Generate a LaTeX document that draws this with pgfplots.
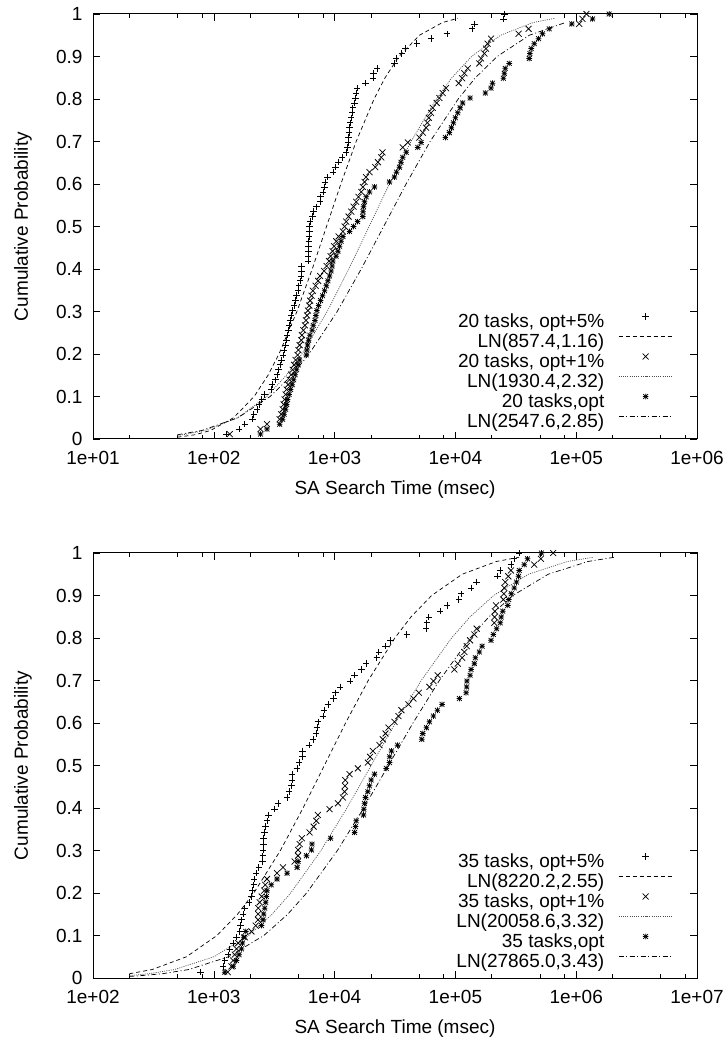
\documentclass[border=0pt]{standalone}
\usepackage{fontspec}
\setmainfont{Liberation Sans}
\usepackage{pgfplots}
\usepackage{pgfplotstable}
\pgfplotsset{compat=1.18}

\pgfdeclareplotmark{gpstar}{%
  \pgfpathmoveto{\pgfqpoint{-\pgfplotmarksize}{0pt}}\pgfpathlineto{\pgfqpoint{\pgfplotmarksize}{0pt}}%
  \pgfpathmoveto{\pgfqpoint{0pt}{-\pgfplotmarksize}}\pgfpathlineto{\pgfqpoint{0pt}{\pgfplotmarksize}}%
  \pgfpathmoveto{\pgfqpoint{-.85\pgfplotmarksize}{-.85\pgfplotmarksize}}\pgfpathlineto{\pgfqpoint{.85\pgfplotmarksize}{.85\pgfplotmarksize}}%
  \pgfpathmoveto{\pgfqpoint{-.85\pgfplotmarksize}{.85\pgfplotmarksize}}\pgfpathlineto{\pgfqpoint{.85\pgfplotmarksize}{-.85\pgfplotmarksize}}%
  \pgfusepathqstroke}

% top: 20 tasks (cumulative probability, search time in msec)
\pgfplotstableread{
p plus cross star
0.0116 127.4 135.6 243.4
0.0233 161.8 243.4 275.7
0.0349 180.3 275.7 350.9
0.0465 208.8 350.9 371.5
0.0581 214.0 361.5 382.2
0.0698 228.6 371.5 393.3
0.0814 237.0 378.6 400.9
0.0930 249.2 385.9 408.6
0.1047 263.8 393.3 420.5
0.1163 299.2 400.9 432.6
0.1279 302.6 412.4 445.0
0.1395 323.4 424.4 458.0
0.1512 333.4 436.6 471.2
0.1628 344.3 449.4 484.9
0.1744 354.3 462.3 498.9
0.1860 362.5 475.8 513.4
0.1977 373.6 494.2 582.6
0.2093 382.2 501.8 590.5
0.2209 391.7 513.4 597.9
0.2326 398.4 530.4 609.4
0.2442 404.7 536.6 624.7
0.2558 414.0 551.4 651.4
0.2674 420.5 567.8 665.2
0.2791 427.0 579.1 687.2
0.2907 435.5 591.6 700.3
0.3023 449.4 601.9 713.8
0.3140 462.3 617.3 737.1
0.3256 475.8 627.0 765.7
0.3372 483.0 645.2 795.4
0.3488 497.3 661.4 826.2
0.3605 506.0 696.2 853.1
0.3721 518.3 730.2 880.2
0.3837 528.3 758.5 908.7
0.3953 530.4 818.4 934.9
0.4070 533.3 858.3 952.9
0.4186 602.0 900.1 967.6
0.4302 605.5 926.2 1029
0.4419 608.0 962.1 1065
0.4535 609.4 990.8 1100
0.4651 611.7 1033 1132
0.4767 614.0 1079 1171
0.4884 617.6 1171 1330
0.5000 621.1 1209 1435
0.5116 627.0 1249 1549
0.5233 657.6 1305 1713
0.5349 670.2 1374 1720
0.5465 709.6 1435 1736
0.5581 755.7 1511 1769
0.5698 765.7 1578 1827
0.5814 800.5 1664 1946
0.5930 826.2 1713 2140
0.6047 831.0 1769 2846
0.6163 874.8 1820 3130
0.6279 967.6 1946 3252
0.6395 1019 2170 3443
0.6512 1079 2286 3543
0.6628 1153 2434 3665
0.6744 1249 2492 3915
0.6860 1274 3665 4878
0.6977 1290 4032 5202
0.7093 1300 5037 8262
0.7209 1313 5366 8916
0.7326 1330 5720 9262
0.7442 1348 5866 9621
0.7558 1374 6020 10000
0.7674 1400 6280 10450
0.7791 1416 6490 10940
0.7907 1463 7000 11490
0.8023 1491 7371 13230
0.8140 1511 7850 17690
0.8256 1540 8370 19720
0.8372 1803 10650 20290
0.8488 2076 11360 24920
0.8605 2100 11870 25400
0.8721 2254 12640 25880
0.8837 3130 15780 27930
0.8953 3235 16310 40860
0.9070 3597 17360 41390
0.9186 3859 17920 42440
0.9302 4788 18480 44940
0.9419 6280 19720 48780
0.9535 8530 33350 52630
0.9651 13740 40320 59790
0.9767 14350 105900 92040
0.9884 24920 112700 136600
1.0000 25400 121600 187300
}\toptab

% bottom: 35 tasks
\pgfplotstableread{
p plus cross star
0.0137 776 1305 1233
0.0274 1193 1400 1446
0.0411 1233 1446 1540
0.0548 1312 1491 1618
0.0685 1356 1540 1697
0.0822 1449 1591 1725
0.0959 1540 1803 1769
0.1096 1640 2048 1838
0.1233 1664 2223 2480
0.1370 1697 2323 2554
0.1507 1747 2327 2588
0.1644 1803 2332 2638
0.1781 1957 2399 2689
0.1918 2048 2492 2725
0.2055 2088 2613 2756
0.2192 2140 2664 2991
0.2329 2152 2756 3335
0.2466 2245 3335 4040
0.2603 2354 3736 4895
0.2740 2526 4668 4990
0.2877 2540 4977 5850
0.3014 2554 4987 6426
0.3151 2569 5134 6502
0.3288 2588 5361 9262
0.3425 2638 6211 14630
0.3562 2689 6702 14910
0.3699 2756 7055 15110
0.3836 2846 7274 17360
0.3973 3191 9087 17460
0.4110 3398 10650 17690
0.4247 4040 11710 18030
0.4384 4188 12090 18840
0.4521 4384 12200 19460
0.4658 4435 12250 20080
0.4795 4443 13300 21400
0.4932 4876 15580 26760
0.5068 5066 18840 28460
0.5205 5405 19640 28570
0.5342 5416 20750 29570
0.5479 6129 23540 33140
0.5616 6614 25070 52700
0.5753 7055 26380 53660
0.5890 7190 27930 57550
0.6027 7274 31300 60940
0.6164 8000 33780 65760
0.6301 8153 35760 70960
0.6438 8798 40860 77600
0.6575 9806 44940 107900
0.6712 10190 49770 122500
0.6849 11140 60940 124000
0.6986 13480 65760 124500
0.7123 14630 71380 132300
0.7260 16640 98060 134800
0.7397 18270 104500 143500
0.7534 22360 113600 146300
0.7671 23220 118700 157800
0.7808 26380 124000 166400
0.7945 29010 132300 197200
0.8082 39560 143500 206000
0.8219 57220 150000 219400
0.8356 57900 210000 235000
0.8493 60200 210800 239400
0.8630 74700 212000 246600
0.8767 85300 216900 271400
0.8904 106500 249200 276500
0.9041 111400 251600 290100
0.9178 134800 254000 307100
0.9315 150000 258800 320800
0.9452 223600 274000 333100
0.9589 235000 288200 337800
0.9726 288200 449400 371500
0.9863 307100 510000 395600
1.0000 337800 645200 515600
}\bottab

\pgfplotsset{
  legend image code/.code={\draw[mark repeat=2,mark phase=2,#1] plot coordinates {(0pt,6.5pt) (27pt,6.5pt) (54pt,6.5pt)};},
}

\begin{document}
\begin{tikzpicture}
\useasboundingbox (0,0) rectangle (728pt,1042pt);

\begin{axis}[at={(93pt,603pt)}, anchor=south west,
  scale only axis, width=604pt, height=425pt,
  xmode=log, ymin=0, ymax=1, clip=false,
  xmin=10, xmax=1000000,
  xtick={10,100,1000,10000,100000,1000000},
  xticklabels={1e+01,1e+02,1e+03,1e+04,1e+05,1e+06},
  minor xtick={20,50,80,200,500,800,2000,5000,8000,20000,50000,80000,200000,500000,800000},
  ytick={0,0.1,0.2,0.3,0.4,0.5,0.6,0.7,0.8,0.9,1},
  yticklabels={0,0.1,0.2,0.3,0.4,0.5,0.6,0.7,0.8,0.9,1},
  major tick length=7pt, minor tick length=4pt,
  tick style={black, line width=0.6pt},
  axis line style={line width=1pt},
  tick label style={font=\fontsize{19}{20}\selectfont},
  xticklabel style={yshift=-9pt},
  yticklabel style={xshift=-7pt},
  label style={font=\fontsize{19}{20}\selectfont},
  xlabel={SA Search Time (msec)},
  ylabel={Cumulative Probability},
  xlabel style={at={(axis description cs:0.5,-0.12)}, anchor=center},
  ylabel style={at={(axis description cs:-0.1159,0.5)}, anchor=center},
  legend plot pos=right,
  legend cell align=right,
  legend style={draw=none, fill=none, inner sep=0pt, outer sep=0pt,
    row sep=0pt, column sep=14pt,
    font=\fontsize{19}{20}\selectfont,
    nodes={inner sep=0pt, text height=14.5pt, text depth=5.5pt},
    at={(axis description cs:0.9603,0.0141)}, anchor=south east}]
\addplot[only marks, black, mark size=3.2pt, mark options={line width=0.75pt}, mark=+] table[x=plus, y=p] {\toptab};
\addlegendentry{20 tasks, opt+5\%}
\addplot[black, line width=0.7pt, dash pattern=on 4pt off 3pt] coordinates {(50,0.0042) (70.0,0.01) (93.9,0.02) (145.8,0.05) (215.7,0.1) (281.0,0.15) (346.5,0.2) (487.4,0.3) (652.7,0.4) (857.4,0.5) (1126,0.6) (1508,0.7) (2122,0.8) (2617,0.85) (3409,0.9) (5042,0.95) (7832,0.98) (10500,0.99)};
\addlegendentry{LN(857.4,1.16)}
\addplot[only marks, black, mark size=4.2pt, mark options={line width=0.75pt}, mark=x] table[x=cross, y=p] {\toptab};
\addlegendentry{20 tasks, opt+1\%}
\addplot[black!70, line width=0.7pt, dash pattern=on 1pt off 1.2pt] coordinates {(50,0.0082) (55.8,0.01) (84.5,0.02) (157.6,0.05) (274.1,0.1) (398.4,0.15) (535.8,0.2) (868.4,0.3) (1312,0.4) (1930,0.5) (2840,0.6) (4291,0.7) (6956,0.8) (9352,0.85) (13600,0.9) (23650,0.95) (44100,0.98) (66720,0.99)};
\addlegendentry{LN(1930.4,2.32)}
\addplot[only marks, black, mark size=2.8pt, mark options={line width=0.75pt}, mark=gpstar] table[x=star, y=p] {\toptab};
\addlegendentry{20 tasks,opt}
\addplot[black, line width=0.7pt, dash pattern=on 5pt off 2.5pt on 1pt off 2.5pt] coordinates {(50,0.00995) (79.5,0.02) (158.5,0.05) (292.7,0.1) (443.0,0.15) (615.2,0.2) (1051,0.3) (1661,0.4) (2548,0.5) (3906,0.6) (6175,0.7) (10550,0.8) (14650,0.85) (22170,0.9) (40950,0.95) (81680,0.98)};
\addlegendentry{LN(2547.6,2.85)}
\end{axis}

\begin{axis}[at={(93pt,64pt)}, anchor=south west,
  scale only axis, width=604pt, height=425pt,
  xmode=log, ymin=0, ymax=1, clip=false,
  xmin=100, xmax=10000000,
  xtick={100,1000,10000,100000,1000000,10000000},
  xticklabels={1e+02,1e+03,1e+04,1e+05,1e+06,1e+07},
  minor xtick={200,500,800,2000,5000,8000,20000,50000,80000,200000,500000,800000,2000000,5000000,8000000},
  ytick={0,0.1,0.2,0.3,0.4,0.5,0.6,0.7,0.8,0.9,1},
  yticklabels={0,0.1,0.2,0.3,0.4,0.5,0.6,0.7,0.8,0.9,1},
  major tick length=7pt, minor tick length=4pt,
  tick style={black, line width=0.6pt},
  axis line style={line width=1pt},
  tick label style={font=\fontsize{19}{20}\selectfont},
  xticklabel style={yshift=-9pt},
  yticklabel style={xshift=-7pt},
  label style={font=\fontsize{19}{20}\selectfont},
  xlabel={SA Search Time (msec)},
  ylabel={Cumulative Probability},
  xlabel style={at={(axis description cs:0.5,-0.12)}, anchor=center},
  ylabel style={at={(axis description cs:-0.1159,0.5)}, anchor=center},
  legend plot pos=right,
  legend cell align=right,
  legend style={draw=none, fill=none, inner sep=0pt, outer sep=0pt,
    row sep=0pt, column sep=14pt,
    font=\fontsize{19}{20}\selectfont,
    nodes={inner sep=0pt, text height=14.5pt, text depth=5.5pt},
    at={(axis description cs:0.9603,0.0118)}, anchor=south east}]
\addplot[only marks, black, mark size=3.2pt, mark options={line width=0.75pt}, mark=+] table[x=plus, y=p] {\bottab};
\addlegendentry{35 tasks, opt+5\%}
\addplot[black, line width=0.7pt, dash pattern=on 4pt off 3pt] coordinates {(200,0.01) (309.4,0.02) (594.4,0.05) (1062,0.1) (1572,0.15) (2144,0.2) (3558,0.3) (5486,0.4) (8220,0.5) (12320,0.6) (18990,0.7) (31520,0.8) (42990,0.85) (63630,0.9) (113700,0.95) (218400,0.98) (337300,0.99)};
\addlegendentry{LN(8220.2,2.55)}
\addplot[only marks, black, mark size=4.2pt, mark options={line width=0.75pt}, mark=x] table[x=cross, y=p] {\bottab};
\addlegendentry{35 tasks, opt+1\%}
\addplot[black!70, line width=0.7pt, dash pattern=on 1pt off 1.2pt] coordinates {(200,0.0057) (289.5,0.01) (475.3,0.02) (1001,0.05) (1942,0.1) (3038,0.15) (4329,0.2) (7716,0.3) (12650,0.4) (20060,0.5) (31820,0.6) (52150,0.7) (92950,0.8) (132500,0.85) (207300,0.9) (401800,0.95) (846500,0.98) (1390000,0.99)};
\addlegendentry{LN(20058.6,3.32)}
\addplot[only marks, black, mark size=2.8pt, mark options={line width=0.75pt}, mark=gpstar] table[x=star, y=p] {\bottab};
\addlegendentry{35 tasks,opt}
\addplot[black, line width=0.7pt, dash pattern=on 5pt off 2.5pt on 1pt off 2.5pt] coordinates {(200,0.0038) (236.2,0.005) (375.2,0.01) (621.1,0.02) (1324,0.05) (2596,0.1) (4090,0.15) (5865,0.2) (10550,0.3) (17430,0.4) (27865,0.5) (44550,0.6) (73620,0.7) (132400,0.8) (189800,0.85) (299200,0.9) (586400,0.95) (1251000,0.98) (2070000,0.99)};
\addlegendentry{LN(27865.0,3.43)}
\end{axis}
\end{tikzpicture}
\end{document}
